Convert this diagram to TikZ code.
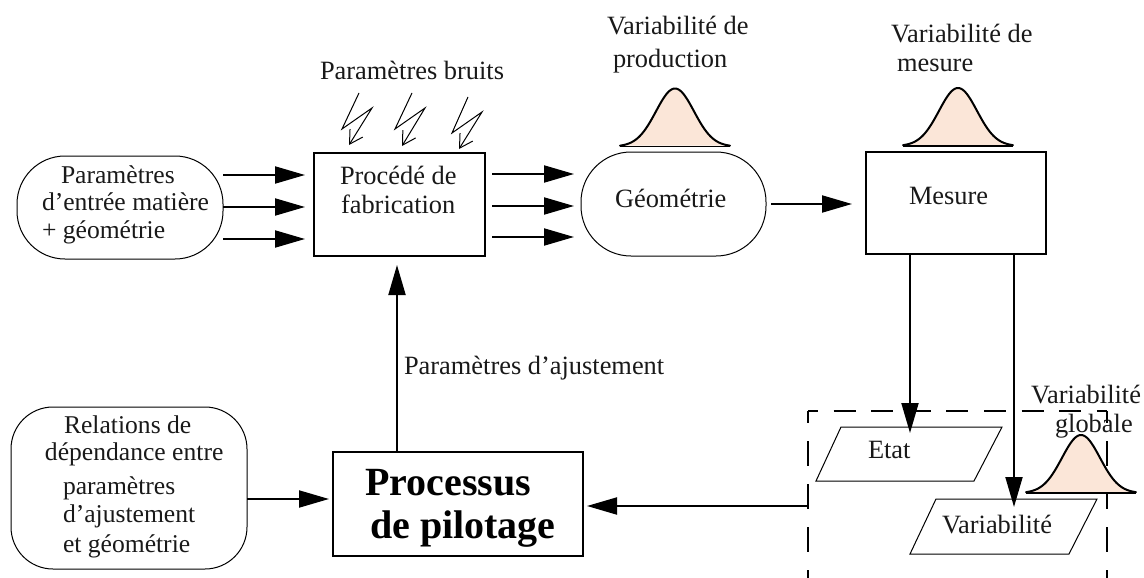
\documentclass[tikz,border=0pt]{standalone}
\usepackage{fontspec}
\setmainfont{Liberation Serif}
\usetikzlibrary{arrows.meta}
\definecolor{bellfill}{HTML}{FBE6D8}
\tikzset{
  x=1pt,y=-1pt,
  every node/.style={inner sep=0pt,outer sep=0pt},
  txt/.style={anchor=base west,font=\fontsize{26.4}{28}\selectfont,text=black!90},
  txtsmall/.style={anchor=base west,font=\fontsize{25.6}{28}\selectfont,text=black!90},
  boldtxt/.style={anchor=base west,font=\fontsize{40}{44}\selectfont\bfseries},
  thickbox/.style={draw,line width=2pt,anchor=north west},
  pill/.style={draw,line width=1pt,anchor=north west},
  arr/.style={line width=2pt,-{Triangle[length=30pt,width=17pt]}},
  bolt/.style={line width=1pt,-{Straight Barb[length=13pt,width=13pt,angle'=60]}},
  thinline/.style={line width=1pt},
  bellarea/.style={fill=bellfill},
  bellcurve/.style={line width=2pt,line join=round,line cap=round},
  bellbase/.style={line width=1.2pt},
  dashtop/.style={line width=2pt,dash pattern=on 22pt off 15.6pt,dash phase=12pt},
  dashside/.style={line width=2pt,dash pattern=on 25pt off 18pt,dash phase=13pt},
}
\newcommand{\bellat}[2]{%
  \fill[bellarea] plot[domain=-55:55,samples=80] ({#1+\x},{#2-58*exp(-0.5*(\x/19)*(\x/19))}) -- cycle;
  \draw[bellbase] (#1-55,#2) -- (#1+55,#2);
  \draw[bellcurve] plot[domain=-55:55,samples=80] ({#1+\x},{#2-58*exp(-0.5*(\x/19)*(\x/19))});}
\begin{document}
\begin{tikzpicture}
\useasboundingbox (0,0) rectangle (1144,578);
\clip (0,0) rectangle (1144,578);
% dashed frame
\coordinate (dfa) at (808,578);
\coordinate (dfb) at (808,411);
\coordinate (dfc) at (1107,411);
\coordinate (dfd) at (1107,578);
\draw[dashtop] (dfb) -- (dfc);
\draw[dashside] (dfb) -- (dfa);
\draw[dashside] (dfc) -- (dfd);
% shapes
\node[pill,minimum width=206pt,minimum height=103pt,rounded corners=48pt] (entree) at (17,156) {};
\node[thickbox,minimum width=171pt,minimum height=103pt] (proc) at (314,153) {};
\node[pill,minimum width=185pt,minimum height=104pt,rounded corners=50pt] (geo) at (581,152) {};
\node[thickbox,minimum width=180pt,minimum height=102pt] (mes) at (866,152) {};
\node[pill,minimum width=236pt,minimum height=162pt,rounded corners=42pt] (rel) at (11,407) {};
\node[thickbox,minimum width=250pt,minimum height=104pt] (pil) at (333,452) {};
\draw[thinline] (841,427) -- (1002,427) -- (974,481) -- (816,481) -- cycle;
\draw[thinline] (936,499) -- (1097,499) -- (1069,554) -- (910,554) -- cycle;
\bellat{675}{146.5}
\bellat{958}{146}
\bellat{1081}{493}
% bolts
\foreach \a/\b/\c/\d/\e/\f/\g/\h in {359/93/342/129/372/108/349/145, 412/93/395/129/425/108/402/146, 468/97/452/133/482/112/459/149}{
  \draw[bolt] (\a,\b) -- (\c,\d) -- (\e,\f) -- (\g,\h);
}
% arrows
\foreach \y in {175,207,239}{\draw[arr,shorten >=9pt] (entree.east |- 0,\y) -- (proc.west |- 0,\y);}
\foreach \y in {174,206,237}{\draw[arr,shorten <=7pt,shorten >=7pt] (proc.east |- 0,\y) -- (geo.west |- 0,\y);}
\draw[arr,shorten <=5pt,shorten >=14pt] (geo.east |- 0,204) -- (mes.west |- 0,204);
\coordinate (etattop) at (910,433);
\coordinate (vartop) at (1014,507);
\draw[arr] (mes.south -| etattop) -- (etattop);
\draw[arr] (mes.south -| vartop) -- (vartop);
\draw[arr,shorten >=9pt] (pil.north -| 397,0) -- (proc.south -| 397,0);
\draw[arr,shorten >=4pt] (rel.east |- 0,499) -- (pil.west |- 0,499);
\draw[arr,shorten >=4pt] (dfb |- 0,506) -- (pil.east |- 0,506);
% labels
\node[txt] (t1) at (320,80) {Paramètres bruits};
\node[txt] (t2) at (607,35) {Variabilité de};
\node[txt] (t3) at (613,67) {production};
\node[txt] (t4) at (891,43) {Variabilité de};
\node[txt] (t5) at (897,72) {mesure};
\node[txtsmall] (t6) at (61,183) {Paramètres};
\node[txtsmall] (t7) at (42,210) {d’entrée matière};
\node[txtsmall] (t8) at (42,238) {+ géométrie};
\node[txt] (t9) at (340,184) {Procédé de};
\node[txt] (t10) at (341,213) {fabrication};
\node[txt] (t11) at (615,207) {Géométrie};
\node[txt] (t12) at (909,204) {Mesure};
\node[txt] (t13) at (404,374) {Paramètres d’ajustement};
\node[txt] (t14) at (868,458) {Etat};
\node[txt] (t15) at (942,533) {Variabilité};
\node[txt] (t16) at (1031,403) {Variabilité};
\node[txt] (t17) at (1055,432) {globale};
\node[txtsmall] (t18) at (64,433) {Relations de};
\node[txtsmall] (t19) at (45,460) {dépendance entre};
\node[txtsmall] (t20) at (63,494) {paramètres};
\node[txtsmall] (t21) at (63,522) {d’ajustement};
\node[txtsmall] (t22) at (63,552) {et géométrie};
\node[boldtxt] (t23) at (365,495) {Processus};
\node[boldtxt] (t24) at (370,538) {de pilotage};
\end{tikzpicture}
\end{document}
